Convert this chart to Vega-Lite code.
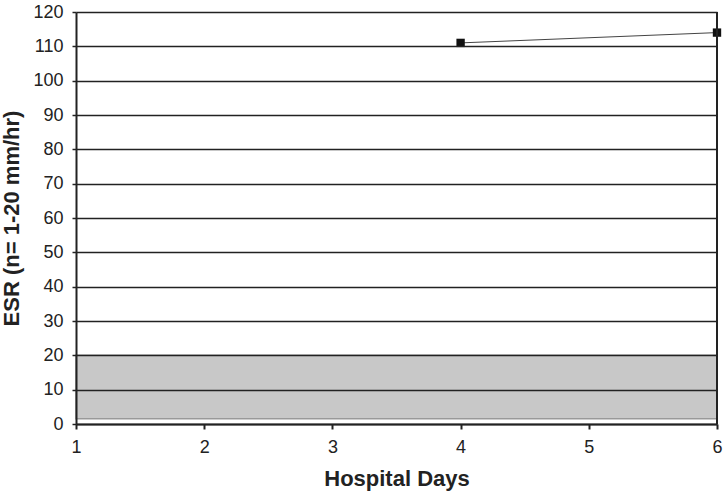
{
  "$schema": "https://vega.github.io/schema/vega-lite/v6.json",
  "width": 641,
  "height": 412,
  "autosize": {"type": "none"},
  "padding": {"left": 76, "top": 12, "right": 6, "bottom": 68},
  "background": "white",
  "config": {
    "view": {"stroke": null},
    "font": "Liberation Sans",
    "axis": {"labelFont": "Liberation Sans", "titleFont": "Liberation Sans"}
  },
  "encoding": {
    "x": {"field": "day", "type": "quantitative", "scale": {"domain": [1, 6]},
      "axis": {"values": [1, 2, 3, 4, 5, 6], "format": "d", "title": "Hospital Days", "grid": false,
        "domainColor": "#222222", "domainWidth": 2, "tickColor": "#222222", "tickWidth": 2, "tickSize": 5,
        "labelFontSize": 18, "labelColor": "#222222", "labelPadding": 9, "labelFlush": false,
        "titleFontSize": 22, "titleFontWeight": "bold", "titleColor": "#222222", "titlePadding": 12, "zindex": 1}},
    "y": {"field": "esr", "type": "quantitative", "scale": {"domain": [0, 120]},
      "axis": {"values": [0, 10, 20, 30, 40, 50, 60, 70, 80, 90, 100, 110, 120], "format": "d", "title": "ESR (n= 1-20 mm/hr)",
        "grid": true, "gridColor": "#222222", "gridWidth": 1.5,
        "domainColor": "#222222", "domainWidth": 2, "tickColor": "#222222", "tickWidth": 1.5, "tickSize": 4,
        "labelFontSize": 18, "labelColor": "#222222", "labelPadding": 9,
        "titleFontSize": 22, "titleFontWeight": "bold", "titleColor": "#222222", "titlePadding": 9, "zindex": 1}}
  },
  "layer": [
    {
      "data": {"values": [{"day": 1, "day2": 6, "esr": 1.5, "esr2": 20}]},
      "mark": {"type": "rect", "fill": "#c8c8c8", "stroke": "#999999", "strokeWidth": 1.5},
      "encoding": {
        "x2": {"field": "day2"},
        "y2": {"field": "esr2"}
      }
    },
    {
      "data": {"values": [{"day": 4, "esr": 111}, {"day": 6, "esr": 114}]},
      "mark": {"type": "line", "color": "#444444", "strokeWidth": 1},
      "encoding": {}
    },
    {
      "data": {"values": [{"day": 4, "esr": 111}, {"day": 6, "esr": 114}]},
      "mark": {"type": "square", "color": "#111111", "opacity": 1, "size": 70, "filled": true},
      "encoding": {}
    },
    {
      "data": {"values": [{"day": 6, "esr": 0, "esr2": 120}]},
      "mark": {"type": "rule", "color": "#222222", "strokeWidth": 2},
      "encoding": {"y2": {"field": "esr2"}}
    }
  ]
}
